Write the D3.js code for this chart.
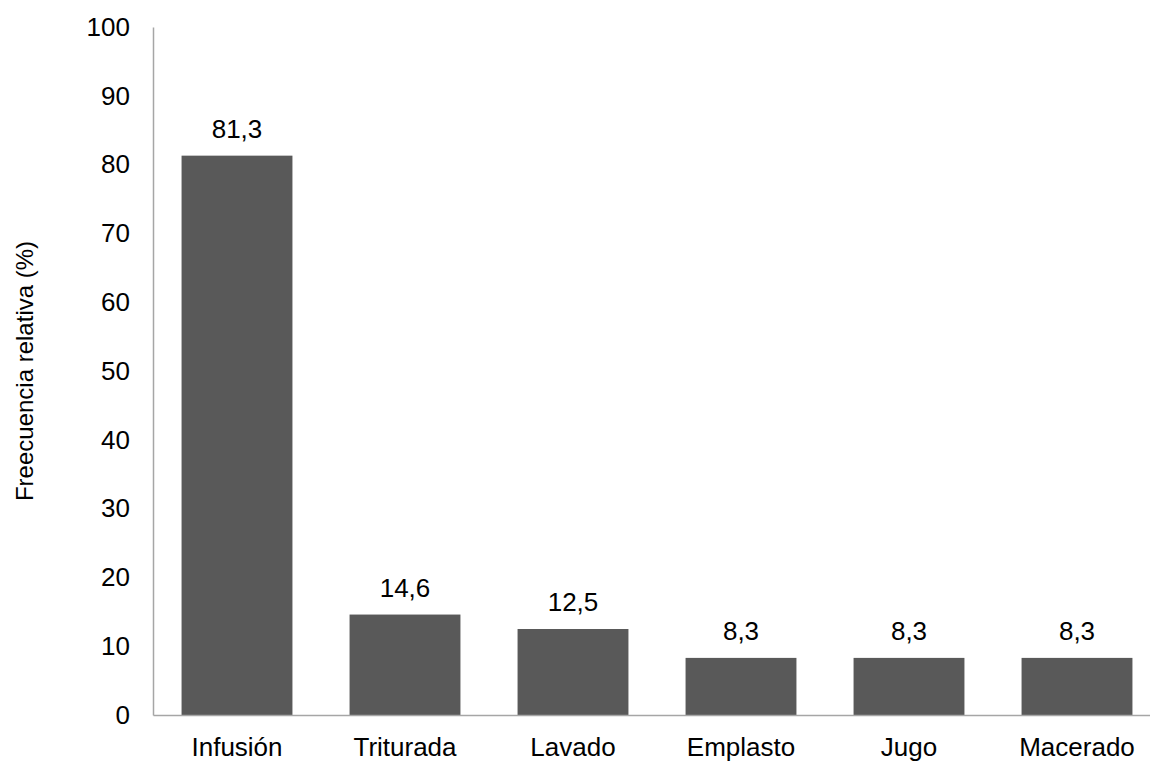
<!DOCTYPE html>
<html>
<head>
<meta charset="utf-8">
<script src="https://cdn.jsdelivr.net/npm/d3@7"></script>
<style>
  html, body { margin: 0; padding: 0; background: #fff; }
  svg text { font-family: "Liberation Sans", Arial, sans-serif; fill: #000; }
</style>
</head>
<body>
<svg id="chart" width="1150" height="761"></svg>
<script>
// Forms of preparation and their relative frequency (%)
const categories = ["Infusión", "Triturada", "Lavado", "Emplasto", "Jugo", "Macerado"];
const values = [81.3, 14.6, 12.5, 8.3, 8.3, 8.3];
const valueLabels = ["81,3", "14,6", "12,5", "8,3", "8,3", "8,3"];
const yTicks = [0, 10, 20, 30, 40, 50, 60, 70, 80, 90, 100];
const yTitle = "Freecuencia relativa (%)";

const svg = d3.select("#chart");
const margin = { left: 153, top: 27, bottom: 46 };
const plotW = 1008;
const height = 761;
const fontSize = 26;

const x = d3.scaleBand()
  .domain(categories)
  .range([margin.left, margin.left + plotW])
  .paddingInner(0.34)
  .paddingOuter(0.17);

const y = d3.scaleLinear()
  .domain([0, 100])
  .range([height - margin.bottom, margin.top]);

// bars
svg.append("g")
  .selectAll("rect")
  .data(categories)
  .join("rect")
  .attr("x", d => x(d))
  .attr("width", x.bandwidth())
  .attr("y", (d, i) => y(values[i]))
  .attr("height", (d, i) => y(0) - y(values[i]))
  .attr("fill", "#595959");

// value labels above the bars
svg.append("g")
  .selectAll("text")
  .data(categories)
  .join("text")
  .attr("x", d => x(d) + x.bandwidth() / 2)
  .attr("y", (d, i) => y(values[i]) - 18)
  .attr("text-anchor", "middle")
  .attr("font-size", fontSize)
  .text((d, i) => valueLabels[i]);

// y axis
const yAxis = svg.append("g")
  .attr("transform", `translate(${margin.left},0)`)
  .call(d3.axisLeft(y).tickValues(yTicks).tickSize(0).tickPadding(23));
yAxis.attr("font-size", fontSize);
yAxis.select(".domain").attr("stroke", "#a6a6a6").attr("stroke-width", 1.5);
yAxis.selectAll("text")
  .attr("font-size", fontSize)
  .attr("fill", "#000");

// x axis
const xAxis = svg.append("g")
  .attr("transform", `translate(0,${y(0)})`)
  .call(d3.axisBottom(x).tickSize(0).tickPadding(23));
xAxis.attr("font-size", fontSize);
xAxis.select(".domain").attr("stroke", "#a6a6a6").attr("stroke-width", 1.5);
xAxis.selectAll("text")
  .attr("font-size", fontSize)
  .attr("fill", "#000");

// y axis title
svg.append("text")
  .attr("transform", `translate(33,${(y(0) + y(100)) / 2}) rotate(-90)`)
  .attr("text-anchor", "middle")
  .attr("font-size", 24)
  .text(yTitle);
</script>
</body>
</html>
